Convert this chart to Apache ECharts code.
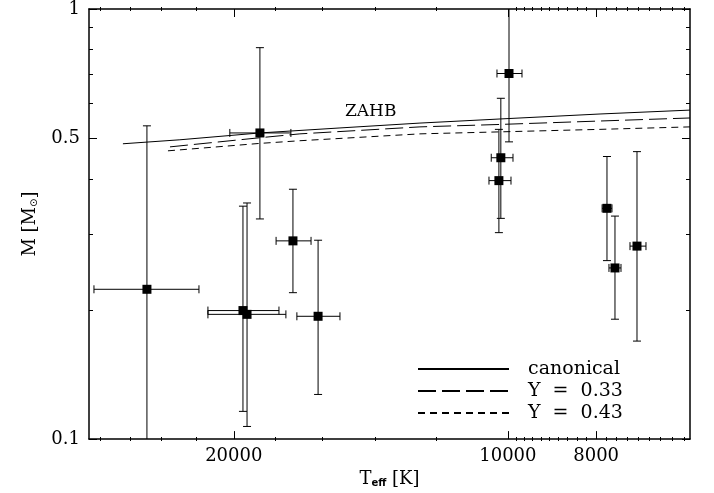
<!DOCTYPE html>
<html>
<head>
<meta charset="utf-8">
<script src="https://cdn.jsdelivr.net/npm/echarts@6/dist/echarts.min.js"></script>
<style>
  html, body { margin: 0; background: #fff; }
  #main { width: 714px; height: 493px; }
</style>
</head>
<body>
<div id="main"></div>
<script>
// stars: Teff [K] and mass [Msun] with error bar ends
var starTeff   = [24910, 19540, 19340, 18720, 17220, 16160, 9972, 10180, 10230, 7784, 7628, 7215];
var starTeffHi = [28480, 21350, 21350, 20200, 17970, 17050, 10280, 10430, 10490, 7880, 7745, 7344];
var starTeffLo = [21840, 17840, 17530, 17310, 16450, 15290, 9650, 9872, 9922, 7686, 7513, 7053];
var starMass   = [0.223, 0.199, 0.195, 0.515, 0.289, 0.193, 0.708, 0.451, 0.399, 0.344, 0.250, 0.281];
var starMassHi = [0.535, 0.348, 0.354, 0.813, 0.381, 0.290, 1.5, 0.620, 0.525, 0.454, 0.330, 0.466];
var starMassLo = [0.05, 0.116, 0.107, 0.325, 0.219, 0.127, 0.491, 0.326, 0.302, 0.260, 0.190, 0.169];

// ZAHB tracks
var canonTeff = [26470, 22920, 18720, 15290, 12490, 10200, 7922, 6310];
var canonMass = [0.486, 0.4965, 0.515, 0.529, 0.543, 0.555, 0.570, 0.582];
var y33Teff = [23500, 18720, 16920, 12490, 10200, 7922, 6310];
var y33Mass = [0.478, 0.502, 0.5125, 0.532, 0.539, 0.549, 0.558];
var y43Teff = [23620, 18720, 16920, 12490, 10200, 7922, 6310];
var y43Mass = [0.468, 0.487, 0.494, 0.5125, 0.518, 0.525, 0.532];

// ticks
var xMajor = [20000, 10000, 8000];
var xMinor = [28000, 26000, 24000, 22000, 18000, 16000, 14000, 12000,
  9800, 9600, 9400, 9200, 9000, 8800, 8600, 8400, 8200,
  7800, 7600, 7400, 7200, 7000, 6800, 6600, 6400];
var yMajor = [0.1, 0.5, 1];
var yMinor = [0.2, 0.3, 0.4, 0.6, 0.7, 0.8, 0.9];

var tMin = 6310, tMax = 28840, mMin = 0.1, mMax = 1;
var serif = 'DejaVu Serif';

function zip(a, b) {
  return a.map(function (v, i) { return [v, b[i]]; });
}

function tAxis(grid, pos, ticks, len, label) {
  return {
    type: 'log', gridIndex: grid, position: pos, inverse: true,
    min: tMin, max: tMax,
    axisLine: { show: grid === 0, lineStyle: { color: '#000', width: 1.5 } },
    axisTick: { inside: true, length: len, customValues: ticks, lineStyle: { color: '#000', width: 1 } },
    axisLabel: {
      show: label, customValues: ticks, margin: 8, color: '#000',
      fontFamily: serif, fontSize: 18, formatter: function (v) { return String(v); }
    },
    splitLine: { show: false }
  };
}

function mAxis(grid, pos, ticks, len, label) {
  return {
    type: 'log', gridIndex: grid, position: pos,
    min: mMin, max: mMax,
    axisLine: { show: grid === 0, lineStyle: { color: '#000', width: 1.5 } },
    axisTick: { inside: true, length: len, customValues: ticks, lineStyle: { color: '#000', width: 1 } },
    axisLabel: {
      show: label, customValues: ticks, margin: 9, color: '#000',
      fontFamily: serif, fontSize: 18, formatter: function (v) { return String(v); }
    },
    splitLine: { show: false }
  };
}

var xBottom = tAxis(0, 'bottom', xMajor, 8, true);
xBottom.name = '{a|T}{s|eff}{a| [K]}';
xBottom.nameLocation = 'middle';
xBottom.nameGap = 30;
xBottom.nameTextStyle = {
  rich: {
    a: { fontFamily: serif, fontSize: 18, color: '#000' },
    s: { fontFamily: 'DejaVu Sans', fontSize: 10, fontWeight: 'bold', color: '#000', padding: [8, 0, 0, 0] }
  }
};
var yLeft = mAxis(0, 'left', yMajor, 8, true);
yLeft.name = '{a|M [M}{s|⊙}{a|]}';
yLeft.nameLocation = 'middle';
yLeft.nameGap = 50;
yLeft.nameTextStyle = {
  rich: {
    a: { fontFamily: serif, fontSize: 18, color: '#000' },
    s: { fontFamily: 'DejaVu Sans', fontSize: 10, color: '#000', padding: [8, 0, 0, 0] }
  }
};

var errData = starTeff.map(function (t, i) {
  return [t, starMass[i], starTeffHi[i], starTeffLo[i], starMassLo[i], starMassHi[i]];
});

var hidden = { color: '#000', opacity: 0 };

var chart = echarts.init(document.getElementById('main'));
chart.setOption({
  animation: false,
  backgroundColor: '#fff',
  grid: [
    { left: 89, right: 24, top: 7, bottom: 52 },
    { left: 89, right: 24, top: 7, bottom: 52 }
  ],
  xAxis: [
    xBottom,
    tAxis(0, 'top', xMajor, 8, false),
    tAxis(1, 'bottom', xMinor, 4, false),
    tAxis(1, 'top', xMinor, 4, false)
  ],
  yAxis: [
    yLeft,
    mAxis(0, 'right', yMajor, 8, false),
    mAxis(1, 'left', yMinor, 4, false),
    mAxis(1, 'right', yMinor, 4, false)
  ],
  legend: {
    orient: 'vertical', left: 412, top: 354,
    itemWidth: 91, itemHeight: 10, itemGap: 2,
    itemStyle: { opacity: 0 },
    data: ['canonical', 'Y  =  0.33', 'Y  =  0.43'],
    textStyle: { fontFamily: serif, fontSize: 19, lineHeight: 20, color: '#000', padding: [0, 0, 0, 14] }
  },
  graphic: [{
    type: 'text', left: 345, top: 103,
    style: { text: 'ZAHB', font: '17px "DejaVu Serif"', fill: '#000' }
  }],
  series: [
    {
      name: 'canonical', type: 'line', xAxisIndex: 0, yAxisIndex: 0,
      data: zip(canonTeff, canonMass), symbol: 'none', itemStyle: hidden,
      lineStyle: { color: '#000', width: 1 }
    },
    {
      name: 'Y  =  0.33', type: 'line', xAxisIndex: 0, yAxisIndex: 0,
      data: zip(y33Teff, y33Mass), symbol: 'none', itemStyle: hidden,
      lineStyle: { color: '#000', width: 1, type: [18, 6] }
    },
    {
      name: 'Y  =  0.43', type: 'line', xAxisIndex: 0, yAxisIndex: 0,
      data: zip(y43Teff, y43Mass), symbol: 'none', itemStyle: hidden,
      lineStyle: { color: '#000', width: 1, type: [7, 5] }
    },
    {
      type: 'custom', xAxisIndex: 0, yAxisIndex: 0, clip: true,
      data: errData,
      encode: { x: 0, y: 1 },
      renderItem: function (params, api) {
        var t = api.value(0), m = api.value(1);
        var top = api.coord([t, api.value(5)]);
        var bot = api.coord([t, api.value(4)]);
        var lft = api.coord([api.value(2), m]);
        var rgt = api.coord([api.value(3), m]);
        var c = 4;
        var segs = [
          [top[0], top[1], bot[0], bot[1]],
          [top[0] - c, top[1], top[0] + c, top[1]],
          [bot[0] - c, bot[1], bot[0] + c, bot[1]],
          [lft[0], lft[1], rgt[0], rgt[1]],
          [lft[0], lft[1] - c, lft[0], lft[1] + c],
          [rgt[0], rgt[1] - c, rgt[0], rgt[1] + c]
        ];
        return {
          type: 'group',
          children: segs.map(function (s) {
            return {
              type: 'line',
              shape: { x1: s[0], y1: s[1], x2: s[2], y2: s[3] },
              style: { stroke: '#000', lineWidth: 1 }
            };
          })
        };
      }
    },
    {
      type: 'scatter', xAxisIndex: 0, yAxisIndex: 0,
      data: zip(starTeff, starMass),
      symbol: 'rect', symbolSize: 9,
      itemStyle: { color: '#000', opacity: 1 }
    }
  ]
});
</script>
</body>
</html>
